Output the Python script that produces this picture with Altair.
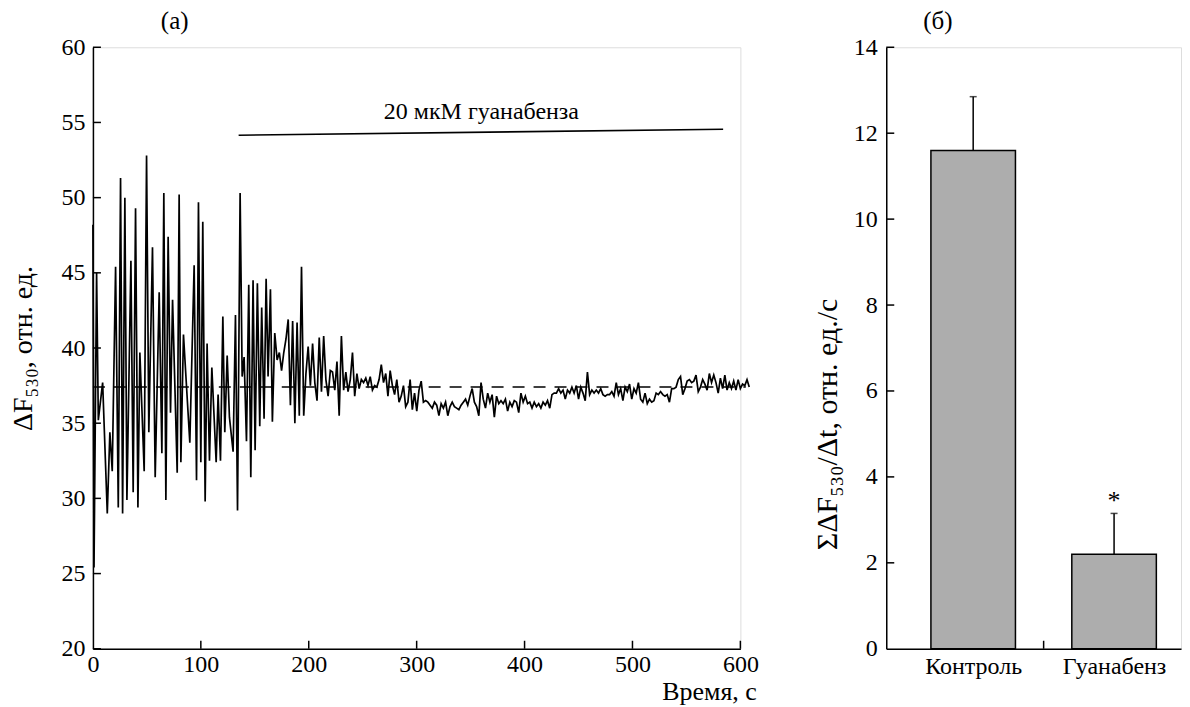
import altair as alt
import pandas as pd

FONT = "Liberation Serif"

# ---------------- panel (а): time course ----------------
times_a = [0, 1, 3.4, 5.0, 9.0, 13.3, 15.7, 17.9, 21.0, 23.5, 25.6, 27.5, 29.6, 31.5, 35.2, 37.3,
           39.5, 41.7, 43.5, 47.5, 49.7, 51.8, 55.2, 57.7, 61.4, 63.9, 65.7, 67.6, 69.7, 71.9,
           73.8, 78.1, 79.9, 81.5, 83.9, 89.8, 93.8, 96.0, 97.8, 100.0, 101.8, 104.0, 105.8,
           108.0, 110.2, 114.2, 116.0, 118.2, 120.4, 122.2, 124.4, 126.5, 129.9, 132.1, 134.0,
           136.4, 138.3, 140.1, 142.3, 144.4, 146.3, 148.4, 150.3, 152.4, 154.6, 156.4, 158.6,
           160.5, 162.3, 164.5, 166.3, 168.5]
values_a = [48.2, 25.4, 45.0, 35.2, 37.7, 29.0, 34.4, 31.8, 45.4, 29.4, 51.3, 29.0, 50.0, 29.9,
            45.8, 30.4, 49.3, 29.4, 39.7, 31.8, 52.8, 34.4, 46.7, 31.4, 43.7, 33.0, 50.3, 29.9,
            47.4, 35.7, 43.2, 31.7, 50.2, 32.4, 40.9, 33.7, 45.5, 31.2, 49.7, 32.4, 48.4, 29.8,
            40.3, 32.5, 38.7, 32.4, 36.9, 32.5, 42.1, 34.4, 39.5, 35.4, 33.1, 42.2, 29.2, 50.3,
            38.1, 39.4, 33.8, 44.2, 31.4, 44.5, 33.2, 44.3, 34.8, 42.7, 35.3, 44.6, 38.1, 43.9,
            35.1, 41.0]

# later part, sampled every ~2.05 s starting at 170.7 s
t_b_start = 170.7
t_b_step = 2.054
values_b = [39.2, 39.7, 38.5, 39.7, 40.6, 41.9, 36.2, 41.8, 35.0, 41.7, 35.5, 45.4, 35.5, 38.3,
            40.1, 37.5, 40.3, 37.7, 36.5, 40.7, 37.1, 40.8, 37.9, 36.8, 38.5, 38.4, 37.2, 39.1,
            35.5, 40.8, 37.2, 38.4, 37.1, 37.9, 39.7, 36.8, 38.3, 37.3, 37.9, 37.7, 38.0, 37.5,
            38.1, 37.2, 37.5, 37.4, 37.9, 38.9, 37.7, 38.3, 36.8, 38.5, 37.5, 36.9, 37.9, 36.4,
            36.8,
            37.5, 36.1, 36.4, 37.9, 35.9, 37.0, 35.8, 37.2, 37.8, 36.4, 36.5, 36.4, 36.2, 36.0,
            36.4, 36.2, 35.5, 36.3, 36.0, 36.4, 35.5, 36.1, 36.4, 36.1, 36.0, 35.9, 36.2, 36.4,
            36.6, 36.2, 36.8, 37.3, 36.4, 36.1, 35.5, 37.7, 36.6, 36.0, 37.0, 36.4, 36.9, 35.4,
            36.8, 36.3, 36.5, 36.3, 36.6, 35.8, 36.4, 36.1, 36.5, 36.4, 35.7, 37.0, 36.4, 36.8,
            36.3, 36.4, 36.0, 36.4, 36.1, 36.3, 36.0, 36.4, 36.2, 36.5, 36.0, 36.9, 37.0, 37.0,
            37.3, 37.0, 37.2, 36.6, 37.2, 37.0, 37.4, 37.0, 37.5, 36.6, 37.4, 37.0, 36.5, 38.4,
            36.9, 37.2, 37.0, 37.2, 37.0, 37.3, 36.9, 36.8, 36.9, 36.9, 37.1, 36.8, 37.7, 36.9,
            37.3, 36.5, 37.4, 37.1, 37.6, 36.6, 37.3, 37.0, 37.7, 36.6, 36.4, 37.0, 36.3, 36.6,
            36.4, 36.5, 37.0, 36.9, 37.1, 36.9, 36.8, 36.9, 36.4, 37.3, 37.3, 37.4, 37.9, 38.1,
            36.9, 37.3, 37.8, 37.9, 37.7, 37.8, 38.2, 37.1, 37.4, 37.9, 37.6, 37.2, 38.3, 37.7,
            38.2, 37.7, 37.0, 38.0, 37.3, 38.2, 37.2, 37.7, 37.3,
            37.8, 37.2, 37.9, 37.3, 37.6, 37.5, 37.9, 37.4]

baseline_value = 37.4
baseline_span = [0, 605]
drug_t = [135, 584]
drug_v = [54.15, 54.55]
drug_label = "20 мкМ гуанабенза"
drug_label_pos = (360, 54.9)

x_ticks_a = [0, 100, 200, 300, 400, 500, 600]
y_ticks_a = [20, 25, 30, 35, 40, 45, 50, 55, 60]

# ---------------- panel (б): bars ----------------
categories = ["Контроль", "Гуанабенз"]
means = [11.6, 2.2]
errors = [1.25, 0.95]
positions = [1, 2]
significant = [False, True]
y_ticks_b = [0, 2, 4, 6, 8, 10, 12, 14]

W1, W2, H = 648, 295, 602
TICK = 8
FS = 24

times_b = [t_b_start + i * t_b_step for i in range(len(values_b))]
df_line = pd.DataFrame({"t": times_a + times_b, "v": values_a + values_b})

xs_a = alt.Scale(domain=[0, 600], nice=False, zero=False)
ys_a = alt.Scale(domain=[20, 60], nice=False, zero=False)

axis_common = dict(domainColor="black", domainWidth=1.5, tickSize=0, grid=False,
                   labelFont=FONT, labelFontSize=FS, labelColor="black",
                   titleFont=FONT, titleColor="black",
                   titleFontWeight="normal", labelFlush=False, labelOverlap=False)

line = alt.Chart(df_line).mark_line(color="black", strokeWidth=1.7).encode(
    x=alt.X("t:Q", scale=xs_a, axis=alt.Axis(values=x_ticks_a, title="Время, с", labelPadding=4,
                                             titleFontSize=26,
                                             titleX=664, titleY=51, titleAlign="right",
                                             titleAnchor="end", titleBaseline="alphabetic",
                                             **axis_common)),
    y=alt.Y("v:Q", scale=ys_a, axis=alt.Axis(values=y_ticks_a, title="ΔF₅₃₀, отн. ед.",
                                             labelPadding=8, titleAngle=270, titleX=-69,
                                             titleFontSize=28,
                                             titleY=H / 2, titleAlign="center",
                                             titleBaseline="middle", **axis_common)),
)

df_base = pd.DataFrame({"t1": [baseline_span[0]], "t2": [baseline_span[1]], "v": [baseline_value]})
base = alt.Chart(df_base).mark_rule(color="black", strokeWidth=1.5, strokeDash=[12, 9]).encode(
    x=alt.X("t1:Q", scale=xs_a), x2="t2:Q", y=alt.Y("v:Q", scale=ys_a))

df_drug = pd.DataFrame({"t1": [drug_t[0]], "t2": [drug_t[1]], "v1": [drug_v[0]], "v2": [drug_v[1]]})
drug = alt.Chart(df_drug).mark_rule(color="black", strokeWidth=1.6).encode(
    x=alt.X("t1:Q", scale=xs_a), x2="t2:Q", y=alt.Y("v1:Q", scale=ys_a), y2="v2:Q")

df_lab = pd.DataFrame({"t": [drug_label_pos[0]], "v": [drug_label_pos[1]], "txt": [drug_label]})
drug_text = alt.Chart(df_lab).mark_text(font=FONT, fontSize=24, color="black", baseline="bottom").encode(
    x=alt.X("t:Q", scale=xs_a), y=alt.Y("v:Q", scale=ys_a), text="txt:N")

ytick_a = alt.Chart(pd.DataFrame({"v": y_ticks_a})).mark_rule(color="black", strokeWidth=1.5).encode(
    y=alt.Y("v:Q", scale=ys_a), x=alt.value(0), x2=alt.value(TICK))
xtick_a = alt.Chart(pd.DataFrame({"t": x_ticks_a[1:]})).mark_rule(color="black", strokeWidth=1.5).encode(
    x=alt.X("t:Q", scale=xs_a), y=alt.value(H), y2=alt.value(H - TICK))

panel_a = alt.layer(line, base, drug, drug_text, ytick_a, xtick_a).properties(
    width=W1, height=H,
    title=alt.TitleParams("(а)", anchor="start", frame="group", dx=68, offset=1,
                          font=FONT, fontSize=25, fontWeight="normal", color="black"))

# ---------------- panel (б) ----------------
df_bar = pd.DataFrame({
    "pos": positions,
    "lo": [p - 0.3 for p in positions],
    "hi": [p + 0.3 for p in positions],
    "mean": means,
    "top": [m + e for m, e in zip(means, errors)],
    "zero": [0, 0],
})
xs_b = alt.Scale(domain=[0.383, 2.475], nice=False, zero=False)
ys_b = alt.Scale(domain=[0, 14], nice=False)
label_expr = "[" + ",".join("'" + c + "'" for c in categories) + "][datum.value - 1]"

bars = alt.Chart(df_bar).mark_bar(color="#adadad", stroke="black", strokeWidth=1.5).encode(
    x=alt.X("lo:Q", scale=xs_b, axis=alt.Axis(values=positions, labelExpr=label_expr, title=None,
                                              labelPadding=6, **axis_common)),
    x2="hi:Q",
    y=alt.Y("mean:Q", scale=ys_b, axis=alt.Axis(values=y_ticks_b, title="ΣΔF₅₃₀/Δt, отн. ед./с",
                                                labelPadding=9, titleAngle=270, titleX=-59,
                                                titleFontSize=30,
                                                titleY=377, titleAlign="center",
                                                titleBaseline="middle", **axis_common)),
    y2="zero:Q",
)
err = alt.Chart(df_bar).mark_rule(color="black", strokeWidth=1.5).encode(
    x=alt.X("pos:Q", scale=xs_b), y=alt.Y("mean:Q", scale=ys_b), y2="top:Q")
cap = alt.Chart(df_bar).mark_tick(color="black", orient="horizontal", size=7, thickness=1.5).encode(
    x=alt.X("pos:Q", scale=xs_b), y=alt.Y("top:Q", scale=ys_b))

df_star = pd.DataFrame({"pos": [p for p, s in zip(positions, significant) if s],
                        "v": [m + e for m, e, s in zip(means, errors, significant) if s]})
star = alt.Chart(df_star).mark_text(text="*", font=FONT, fontSize=26, color="black",
                                    baseline="alphabetic", dy=-4).encode(
    x=alt.X("pos:Q", scale=xs_b), y=alt.Y("v:Q", scale=ys_b))

ytick_b = alt.Chart(pd.DataFrame({"v": y_ticks_b[1:]})).mark_rule(color="black", strokeWidth=1.5).encode(
    y=alt.Y("v:Q", scale=ys_b), x=alt.value(0), x2=alt.value(TICK))
mid = sum(positions) / len(positions)
xtick_b = alt.Chart(pd.DataFrame({"pos": [mid]})).mark_rule(color="black", strokeWidth=1.5).encode(
    x=alt.X("pos:Q", scale=xs_b), y=alt.value(H), y2=alt.value(H - TICK))

panel_b = alt.layer(bars, err, cap, star, ytick_b, xtick_b).properties(
    width=W2, height=H,
    title=alt.TitleParams("(б)", anchor="start", frame="group", dx=37, offset=1,
                          font=FONT, fontSize=25, fontWeight="normal", color="black"))

chart = alt.hconcat(panel_a, panel_b, spacing=146, bounds="flush").properties(
    padding={"left": 1, "top": 0, "right": 0, "bottom": 0}
).configure_view(stroke=None).configure(font=FONT, background="white")

chart.save("out.html", embed_options={"renderer": "svg", "actions": False})
